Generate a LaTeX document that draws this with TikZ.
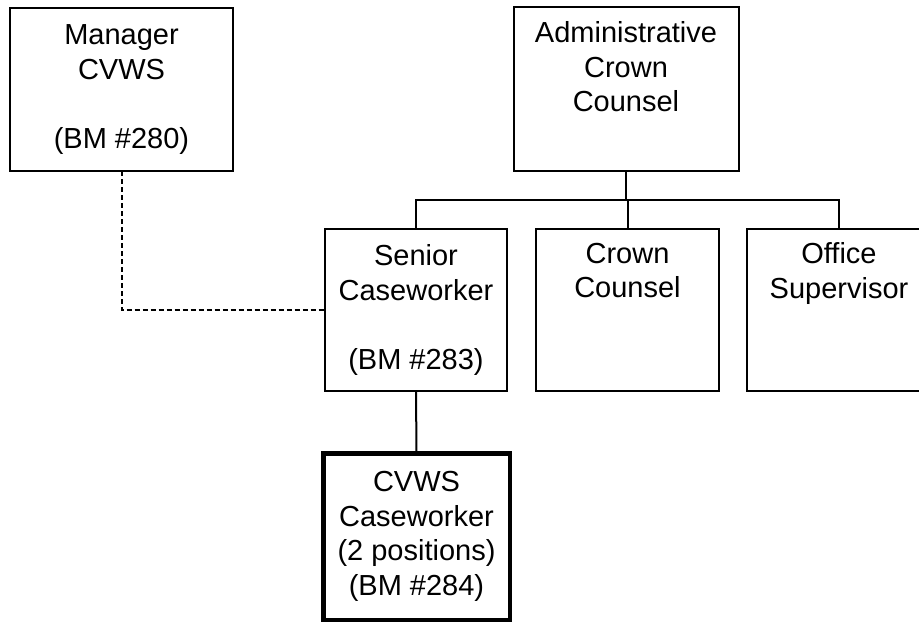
\documentclass[tikz,border=0pt]{standalone}
\usepackage{fontspec}
\setmainfont{Liberation Sans}
\usetikzlibrary{calc}
\tikzset{
  orgbox/.style={draw, line width=2pt, inner sep=0pt, outer sep=0pt, align=center,
    font=\fontsize{29}{34.5}\selectfont},
  orgline/.style={line width=2pt},
}

\begin{document}
\begin{tikzpicture}[x=1pt, y=-1pt]

  \useasboundingbox (0, 0) rectangle (919, 624);
  % \draw [help lines, step=50] (0, 0) grid (919, 624);
  \node[orgbox, minimum width=223pt, minimum height=163pt] (mgr) at (121.5, 89.5) {Manager\\CVWS\\\strut\\(BM \#280)};
  \node[orgbox, minimum width=225pt, minimum height=164pt] (admin) at (626, 89) {Administrative\\Crown\\Counsel\\\strut};
  \node[orgbox, minimum width=182pt, minimum height=162pt] (senior) at (416, 310) {Senior\\Caseworker\\\strut\\(BM \#283)};
  \node[orgbox, minimum width=183pt, minimum height=162pt] (crown) at (627.5, 310) {Crown\\Counsel\\\strut\\\strut};
  \node[orgbox, minimum width=184pt, minimum height=162pt] (office) at (839, 310) {Office\\Supervisor\\\strut\\\strut};
  \node[orgbox, line width=4.5pt, minimum width=186.5pt, minimum height=166.5pt] (cvws) at (416.5, 536.5) {CVWS\\Caseworker\\(2 positions)\\(BM \#284)};

  \coordinate (bus) at (0, 200);
  \draw[orgline] (admin.south) -- (admin.south |- bus);
  \draw[orgline] (senior.north) -- (senior.north |- bus) -- (office.north |- bus) -- (office.north);
  \draw[orgline] (crown.north) -- (crown.north |- bus);
  \draw[orgline] (senior.south) -- (cvws.north);
  \draw[orgline, dash pattern=on 5pt off 3pt] (mgr.south) |- (senior.west);

\end{tikzpicture}
\end{document}
